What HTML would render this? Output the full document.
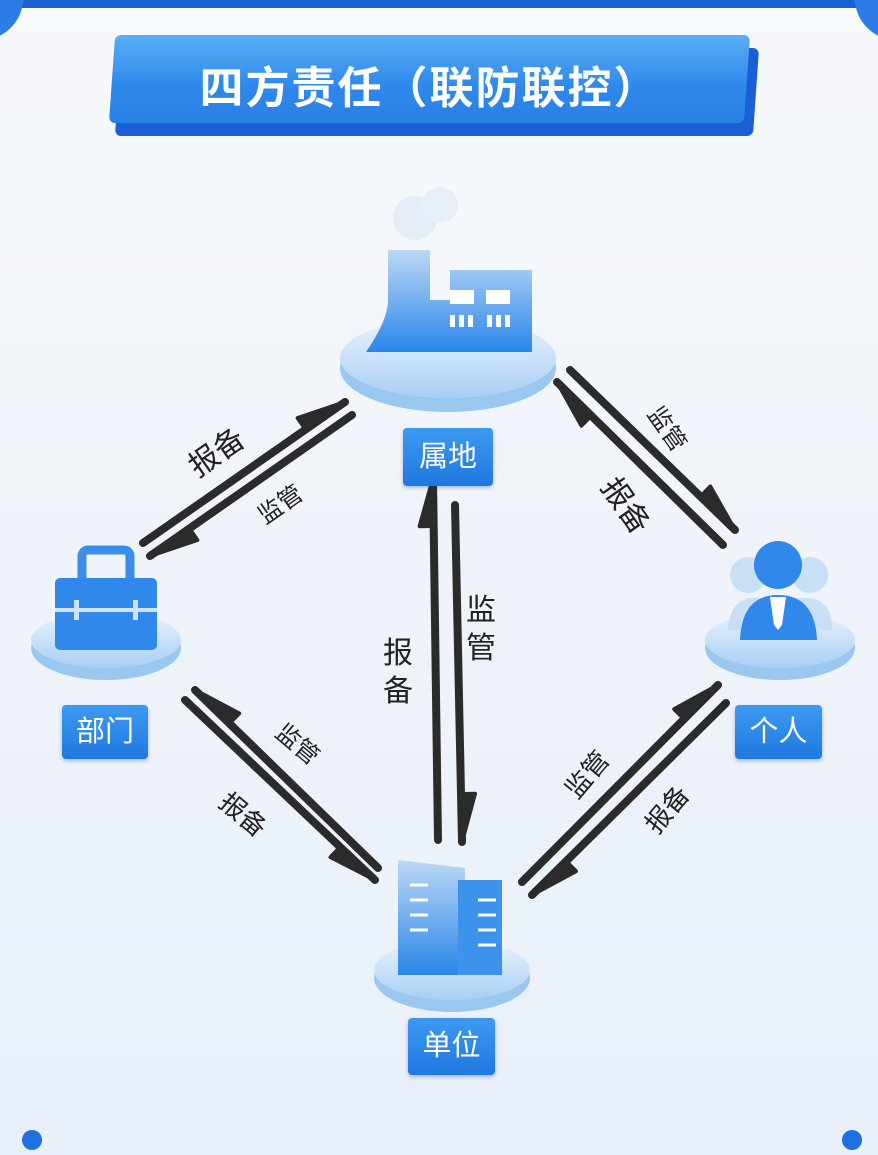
<!DOCTYPE html>
<html><head><meta charset="utf-8">
<style>
html,body{margin:0;padding:0}
body{width:878px;height:1155px;position:relative;overflow:hidden;background:linear-gradient(#f7f9fc,#eef3fa 60%,#e9f0f9);font-family:"Liberation Sans","Noto Sans CJK SC",sans-serif}
.lab{position:absolute;background:linear-gradient(#3d9af0,#1f78e0);color:#fff;font-size:29px;text-align:center;border-radius:4px;box-shadow:0 2px 4px rgba(0,60,150,.3)}
.t{position:absolute;font-size:30px;color:#222;white-space:nowrap;transform-origin:center}
</style></head><body>
<div style="position:absolute;left:0;top:0;width:878px;height:8px;background:#1a5fd0"></div>
<div style="position:absolute;left:-20px;top:-10px;width:40px;height:50px;background:#2d7be6;border-radius:0 0 30px 0;transform:skewX(-15deg)"></div>
<div style="position:absolute;right:-20px;top:-10px;width:40px;height:50px;background:#2d7be6;border-radius:0 0 0 30px;transform:skewX(15deg)"></div>
<!-- title -->
<div style="position:absolute;left:118px;top:48px;width:638px;height:88px;background:#1a5ed8;transform:skewX(-4deg);border-radius:6px"></div>
<div style="position:absolute;left:112px;top:35px;width:635px;height:88px;background:linear-gradient(#5aaef5,#2d88ea 60%,#2a80e6);transform:skewX(-4deg);border-radius:6px"></div>
<div style="position:absolute;left:112px;top:52px;width:635px;text-align:center;color:#fff;font-size:44px;font-weight:bold;letter-spacing:2px">四方责任（联防联控）</div>

<svg width="878" height="1155" style="position:absolute;left:0;top:0">
<defs>
<linearGradient id="pl" x1="0" y1="0" x2="0" y2="1"><stop offset="0" stop-color="#eaf3fd"/><stop offset="1" stop-color="#a9cff3"/></linearGradient>
<linearGradient id="ic" x1="0" y1="0" x2="0" y2="1"><stop offset="0" stop-color="#bcd8f5"/><stop offset="1" stop-color="#2a86ea"/></linearGradient>
</defs>
<!-- platforms -->
<ellipse cx="448" cy="368" rx="108" ry="44" fill="#9ac7f0"/><ellipse cx="448" cy="358" rx="108" ry="40" fill="url(#pl)"/>
<ellipse cx="106" cy="648" rx="75" ry="32" fill="#9ac7f0"/><ellipse cx="106" cy="640" rx="75" ry="28" fill="url(#pl)"/>
<ellipse cx="780" cy="648" rx="75" ry="32" fill="#9ac7f0"/><ellipse cx="780" cy="640" rx="75" ry="28" fill="url(#pl)"/>
<ellipse cx="452" cy="978" rx="78" ry="34" fill="#9ac7f0"/><ellipse cx="452" cy="970" rx="78" ry="30" fill="url(#pl)"/>
<!-- factory -->
<circle cx="415" cy="218" r="22" fill="#e4ecf5"/><circle cx="440" cy="205" r="18" fill="#e8eef6"/>
<path d="M388 250 L430 250 L430 300 L450 300 L450 270 L532 270 L532 352 L366 352 Q388 320 388 300 Z" fill="url(#ic)"/>
<rect x="450" y="290" width="24" height="14" fill="#fff"/><rect x="486" y="290" width="24" height="14" fill="#fff"/>
<g fill="#fff"><rect x="450" y="315" width="5" height="12"/><rect x="459" y="315" width="5" height="12"/><rect x="468" y="315" width="5" height="12"/><rect x="487" y="315" width="5" height="12"/><rect x="496" y="315" width="5" height="12"/><rect x="505" y="315" width="5" height="12"/></g>
<!-- briefcase -->
<rect x="82" y="550" width="48" height="35" rx="6" fill="none" stroke="#3b8ee8" stroke-width="9"/>
<rect x="55" y="578" width="102" height="72" rx="5" fill="#2f88ea"/>
<rect x="55" y="608" width="102" height="4" fill="#cfe4fa"/>
<rect x="74" y="600" width="5" height="20" fill="#cfe4fa"/><rect x="133" y="600" width="5" height="20" fill="#cfe4fa"/>
<!-- person -->
<circle cx="748" cy="575" r="18" fill="#c9dff6"/><circle cx="810" cy="575" r="18" fill="#c9dff6"/>
<path d="M728 630 Q730 595 760 598 L800 598 Q832 595 832 630 Z" fill="#c9dff6"/>
<circle cx="778" cy="565" r="24" fill="#2f88ea"/>
<path d="M740 640 Q742 595 778 595 Q815 595 817 640 Z" fill="#2f88ea"/>
<path d="M770 597 L786 597 L782 625 L778 630 L774 625 Z" fill="#fff"/>
<!-- building -->
<path d="M398 860 L465 868 L465 975 L398 975 Z" fill="url(#ic)"/>
<rect x="458" y="880" width="44" height="95" fill="#3d92ec"/>
<g stroke="#fff" stroke-width="3"><line x1="410" y1="885" x2="428" y2="885"/><line x1="410" y1="900" x2="428" y2="900"/><line x1="410" y1="915" x2="428" y2="915"/><line x1="410" y1="930" x2="428" y2="930"/><line x1="478" y1="900" x2="496" y2="900"/><line x1="478" y1="915" x2="496" y2="915"/><line x1="478" y1="930" x2="496" y2="930"/><line x1="478" y1="945" x2="496" y2="945"/></g>
<g id="arrows" fill="#2b2b2b" stroke="#2b2b2b" stroke-linecap="round"></g>
<circle cx="32" cy="1140" r="10" fill="#1f6fe0"/><circle cx="852" cy="1140" r="10" fill="#1f6fe0"/>
</svg>

<div class="lab" style="left:403px;top:428px;width:90px;height:58px;line-height:58px">属地</div>
<div class="lab" style="left:62px;top:705px;width:86px;height:54px;line-height:54px">部门</div>
<div class="lab" style="left:735px;top:705px;width:87px;height:54px;line-height:54px">个人</div>
<div class="lab" style="left:408px;top:1018px;width:87px;height:57px;line-height:57px">单位</div>

<div class="t" style="left:185px;top:428px;transform:rotate(-35deg)">报备</div>
<div class="t" style="left:255px;top:485px;transform:rotate(-35deg);font-size:24px">监管</div>
<div class="t" style="left:383px;top:635px;width:32px;line-height:38px">报<br>备</div>
<div class="t" style="left:466px;top:592px;width:32px;line-height:38px">监<br>管</div>
<div class="t" style="left:645px;top:410px;transform:rotate(55deg);font-size:24px">监管</div>
<div class="t" style="left:598px;top:482px;transform:rotate(55deg)">报备</div>
<div class="t" style="left:275px;top:725px;transform:rotate(40deg);font-size:24px">监管</div>
<div class="t" style="left:218px;top:795px;transform:rotate(40deg);font-size:26px">报备</div>
<div class="t" style="left:560px;top:755px;transform:rotate(-50deg);font-size:26px">监管</div>
<div class="t" style="left:640px;top:790px;transform:rotate(-50deg);font-size:26px">报备</div>

<script>
var g=document.getElementById('arrows');
function h(x1,y1,x2,y2,cx,cy){
 var dx=x2-x1,dy=y2-y1,L=Math.hypot(dx,dy);dx/=L;dy/=L;
 var nx=-dy,ny=dx,mx=(x1+x2)/2,my=(y1+y2)/2;
 if(nx*(mx-cx)+ny*(my-cy)<0){nx=-nx;ny=-ny;}
 var l=document.createElementNS('http://www.w3.org/2000/svg','line');
 l.setAttribute('x1',x1);l.setAttribute('y1',y1);l.setAttribute('x2',x2);l.setAttribute('y2',y2);l.setAttribute('stroke-width',8);g.appendChild(l);
 var bx=x2-dx*48,by=y2-dy*48;
 var p=document.createElementNS('http://www.w3.org/2000/svg','polygon');
 p.setAttribute('points',x2+','+y2+' '+(bx+nx*14)+','+(by+ny*14)+' '+(bx+nx*2)+','+(by+ny*2));
 p.setAttribute('stroke-width',4);p.setAttribute('stroke-linejoin','round');g.appendChild(p);
}
h(143,543,345,402,250,478); h(352,415,150,556,250,478);
h(438,840,433,478,446,660); h(455,505,462,842,446,660);
h(723,545,557,382,645,458); h(570,370,735,530,645,458);
h(378,868,195,690,282,780); h(185,700,375,880,282,780);
h(522,882,718,685,620,790); h(726,703,532,895,620,790);
</script>
</body></html>
